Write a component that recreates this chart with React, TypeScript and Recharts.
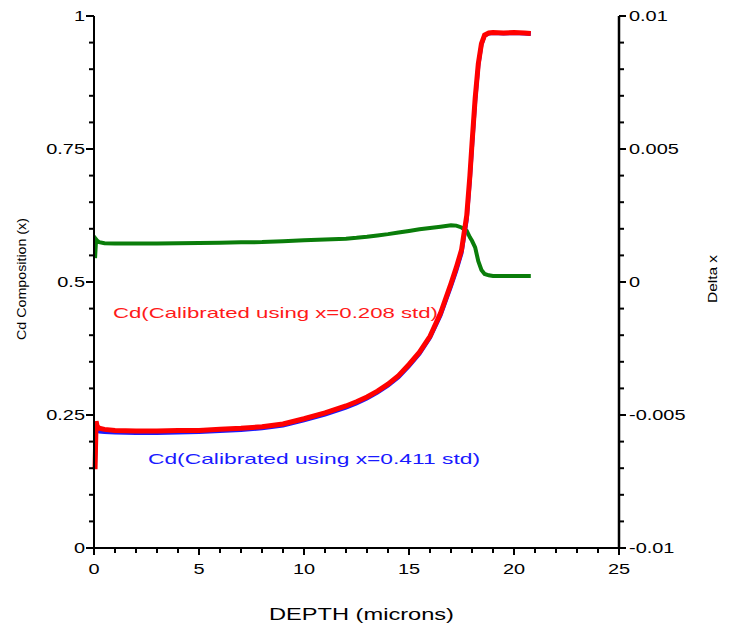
import { LineChart, Line, XAxis, YAxis } from "recharts";

// depth in microns, shared by all three traces
const DEPTH = [
  0.05, 0.1, 0.15, 0.25, 0.5, 1, 2, 3, 4, 5, 6, 7, 8, 9, 10, 11, 12, 12.5, 13,
  13.5, 14, 14.5, 15, 15.5, 16, 16.5, 17, 17.25, 17.5, 17.75, 17.9, 18, 18.15,
  18.3, 18.45, 18.6, 18.8, 19, 19.5, 20, 20.5, 20.8,
];

// Cd composition, calibrated with x=0.208 std (red)
const CD_208 = [
  0.148, 0.238, 0.229, 0.225, 0.223, 0.221, 0.22, 0.22, 0.221, 0.221, 0.223,
  0.225, 0.228, 0.233, 0.243, 0.254, 0.267, 0.275, 0.284, 0.295, 0.308, 0.324,
  0.345, 0.368, 0.398, 0.441, 0.497, 0.527, 0.56, 0.625, 0.7, 0.76, 0.845, 0.91,
  0.948, 0.964, 0.968, 0.969, 0.968, 0.969, 0.968, 0.967,
];

// Cd composition, calibrated with x=0.411 std (blue)
const CD_411 = [
  0.16, 0.226, 0.221, 0.219, 0.218, 0.217, 0.216, 0.216, 0.217, 0.218, 0.22,
  0.222, 0.225, 0.23, 0.24, 0.251, 0.264, 0.272, 0.281, 0.292, 0.305, 0.321,
  0.342, 0.365, 0.395, 0.437, 0.492, 0.521, 0.554, 0.617, 0.692, 0.752, 0.838,
  0.906, 0.946, 0.963, 0.967, 0.968, 0.967, 0.968, 0.967, 0.966,
];

// difference between the two calibrations (right axis)
const DELTA_X = [
  0.0009, 0.0016, 0.00155, 0.0015, 0.00146, 0.00145, 0.00145, 0.00145,
  0.00146, 0.00147, 0.00148, 0.00149, 0.0015, 0.00153, 0.00157, 0.0016,
  0.00163, 0.00166, 0.0017, 0.00175, 0.0018, 0.00186, 0.00192, 0.00198,
  0.00203, 0.00208, 0.00213, 0.00212, 0.00205, 0.00192, 0.00168, 0.00155,
  0.0013, 0.00078, 0.00045, 0.0003, 0.00025, 0.00023, 0.00023, 0.00023,
  0.00023, 0.00023,
];

const X_TICKS = [
  0, 1, 2, 3, 4, 5, 6, 7, 8, 9, 10, 11, 12, 13, 14, 15, 16, 17, 18, 19, 20, 21,
  22, 23, 24, 25,
];
const X_MAJOR = [0, 5, 10, 15, 20, 25];

const LEFT_TICKS = [
  0, 0.05, 0.1, 0.15, 0.2, 0.25, 0.3, 0.35, 0.4, 0.45, 0.5, 0.55, 0.6, 0.65,
  0.7, 0.75, 0.8, 0.85, 0.9, 0.95, 1,
];
const LEFT_MAJOR = [0, 0.25, 0.5, 0.75, 1];

const RIGHT_TICKS = [
  -0.01, -0.009, -0.008, -0.007, -0.006, -0.005, -0.004, -0.003, -0.002,
  -0.001, 0, 0.001, 0.002, 0.003, 0.004, 0.005, 0.006, 0.007, 0.008, 0.009,
  0.01,
];
const RIGHT_MAJOR = [-0.01, -0.005, 0, 0.005, 0.01];

const FONT = "'Liberation Sans', Arial, sans-serif";
const STRETCH = 1.33;
const TICK = 5; // built-in tick length (minor ticks)

const data = DEPTH.map((d, i) => ({
  depth: d,
  cd208: CD_208[i],
  cd411: CD_411[i],
  delta: DELTA_X[i],
}));

// x, y arrive already offset by TICK from the axis line
const XTick = (props: any) => {
  const { x, y, payload } = props;
  if (!X_MAJOR.includes(payload.value)) return <g />;
  return (
    <g>
      <line x1={x} x2={x} y1={y - TICK} y2={y + 2} stroke="#000" strokeWidth={2} />
      <text
        transform={`translate(${x},${y + 21}) scale(${STRETCH},1)`}
        textAnchor="middle"
        fontSize={15}
        fontFamily={FONT}
        fill="#000"
      >
        {`${payload.value}`}
      </text>
    </g>
  );
};

const LeftTick = (props: any) => {
  const { x, y, payload } = props;
  if (!LEFT_MAJOR.includes(payload.value)) return <g />;
  return (
    <g>
      <line x1={x + TICK} x2={x - 3} y1={y} y2={y} stroke="#000" strokeWidth={2} />
      <text
        transform={`translate(${x - 4},${y + 5}) scale(${STRETCH},1)`}
        textAnchor="end"
        fontSize={15}
        fontFamily={FONT}
        fill="#000"
      >
        {`${payload.value}`}
      </text>
    </g>
  );
};

const RightTick = (props: any) => {
  const { x, y, payload } = props;
  if (!RIGHT_MAJOR.includes(payload.value)) return <g />;
  return (
    <g>
      <line x1={x - TICK} x2={x + 2} y1={y} y2={y} stroke="#000" strokeWidth={2} />
      <text
        transform={`translate(${x + 5},${y + 5}) scale(${STRETCH},1)`}
        textAnchor="start"
        fontSize={15}
        fontFamily={FONT}
        fill="#000"
      >
        {`${payload.value}`}
      </text>
    </g>
  );
};

const tickLineStyle = { stroke: "#000", strokeWidth: 2 };

export default function App() {
  return (
    <div style={{ position: "absolute", left: 0, top: 0, width: 734, height: 624, background: "#fff" }}>
      {/* annotation layer sits under the chart */}
      <svg
        width={734}
        height={624}
        style={{ position: "absolute", left: 0, top: 0, pointerEvents: "none" }}
      >
        <text x={113} y={318} fontSize={15} fontFamily={FONT} fill="#ff1a1a" textLength={325} lengthAdjust="spacingAndGlyphs">
          Cd(Calibrated using x=0.208 std)
        </text>
        <text x={148} y={464} fontSize={15} fontFamily={FONT} fill="#1a1aff" textLength={332} lengthAdjust="spacingAndGlyphs">
          Cd(Calibrated using x=0.411 std)
        </text>
        <text x={269} y={620} fontSize={16} fontFamily={FONT} fill="#000" textLength={185} lengthAdjust="spacingAndGlyphs">
          DEPTH (microns)
        </text>
        <text
          transform="translate(26,279) rotate(-90)"
          textAnchor="middle"
          fontSize={13}
          fontFamily={FONT}
          fill="#000"
          textLength={122}
          lengthAdjust="spacingAndGlyphs"
        >
          Cd Composition (x)
        </text>
        <text
          transform="translate(717,279) rotate(-90)"
          textAnchor="middle"
          fontSize={13}
          fontFamily={FONT}
          fill="#000"
          textLength={48}
          lengthAdjust="spacingAndGlyphs"
        >
          Delta x
        </text>
      </svg>
      <LineChart
        width={734}
        height={624}
        data={data}
        margin={{ top: 16, right: 0, bottom: 0, left: 0 }}
      >
        <XAxis
          dataKey="depth"
          type="number"
          domain={[0, 25]}
          ticks={X_TICKS}
          interval={0}
          height={76}
          tickSize={TICK}
          tickMargin={0}
          tickLine={tickLineStyle}
          tick={XTick}
          axisLine={{ stroke: "#000", strokeWidth: 2 }}
        />
        <XAxis
          xAxisId="top"
          orientation="top"
          type="number"
          domain={[0, 25]}
          height={0}
          tick={false}
          tickLine={false}
          axisLine={{ stroke: "#000", strokeWidth: 1 }}
        />
        <YAxis
          yAxisId="left"
          type="number"
          domain={[0, 1]}
          ticks={LEFT_TICKS}
          interval={0}
          width={94}
          tickSize={TICK}
          tickMargin={0}
          tickLine={tickLineStyle}
          tick={LeftTick}
          axisLine={{ stroke: "#000", strokeWidth: 2 }}
        />
        <YAxis
          yAxisId="right"
          orientation="right"
          type="number"
          domain={[-0.01, 0.01]}
          ticks={RIGHT_TICKS}
          interval={0}
          width={115}
          tickSize={TICK}
          tickMargin={0}
          tickLine={tickLineStyle}
          tick={RightTick}
          axisLine={{ stroke: "#000", strokeWidth: 2.5 }}
        />
        <Line
          yAxisId="right"
          dataKey="delta"
          type="linear"
          stroke="#0a7d0a"
          strokeWidth={4}
          dot={false}
          isAnimationActive={false}
        />
        <Line
          yAxisId="left"
          dataKey="cd411"
          type="linear"
          stroke="#1a1aff"
          strokeWidth={4}
          dot={false}
          isAnimationActive={false}
        />
        <Line
          yAxisId="left"
          dataKey="cd208"
          type="linear"
          stroke="#ff0000"
          strokeWidth={5}
          dot={false}
          isAnimationActive={false}
        />
      </LineChart>
    </div>
  );
}
